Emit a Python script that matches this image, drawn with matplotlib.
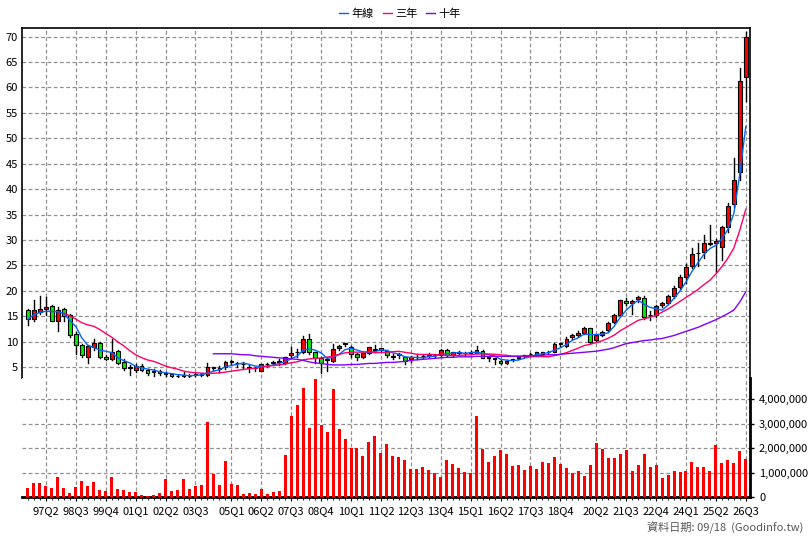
import matplotlib
matplotlib.use("Agg")
import matplotlib.pyplot as plt
import numpy as np
import pandas as pd
from matplotlib.patches import Rectangle

plt.rcParams['font.family'] = ['Noto Sans CJK TC', 'DejaVu Sans']

# Quarterly OHLC, first candle = 96Q3, last = 26Q3
opens = [16.2,14.4,15.9,16.4,17.0,14.0,16.5,15.3,11.5,9.3,7.0,9.0,9.7,7.0,6.6,8.2,5.9,4.8,4.4,5.2,
         4.4,4.0,4.2,3.8,3.6,3.2,3.3,3.3,3.4,3.5,3.5,4.9,4.7,5.0,6.0,5.8,5.6,4.9,4.7,4.3,
         5.5,5.8,6.0,5.7,7.3,7.9,8.0,10.6,7.9,6.7,6.4,6.2,8.7,9.5,9.0,7.6,7.0,7.8,8.4,8.7,
         8.2,7.0,7.4,6.9,6.5,6.9,7.1,7.2,7.3,7.3,8.4,7.3,7.8,7.7,7.8,7.8,8.2,6.8,6.6,6.2,
         5.7,6.4,6.7,7.2,7.5,7.5,7.5,7.9,8.0,9.6,9.2,10.8,11.2,11.6,12.6,10.3,11.3,12.3,13.9,15.2,
         18.0,17.6,18.3,18.5,15.2,15.2,17.1,17.6,18.9,20.7,22.7,24.9,27.4,27.6,29.2,29.3,28.7,32.5,37.1,43.4,
         62.0]
highs = [16.5,18.2,19.0,18.8,17.2,16.8,16.6,15.5,11.8,9.6,9.4,10.5,9.9,7.3,10.5,8.4,6.6,5.4,5.6,5.5,
         4.6,4.6,4.4,4.1,3.7,3.5,4.1,3.6,3.8,3.9,5.8,5.0,5.1,6.2,6.4,6.0,5.9,5.3,5.0,5.6,
         5.8,6.1,6.5,7.0,9.0,8.5,11.0,11.5,8.0,6.9,7.0,9.5,9.4,9.8,9.1,7.8,8.0,9.0,9.3,8.8,
         8.3,7.5,7.8,7.0,7.2,7.5,7.3,7.7,7.6,8.5,8.5,8.0,8.1,8.0,8.1,9.2,8.3,7.1,6.8,6.3,
         6.3,6.6,7.2,7.4,7.7,8.0,8.0,8.1,9.7,9.8,10.8,11.4,12.0,12.8,12.7,11.5,12.0,13.9,15.4,18.2,
         18.5,18.1,19.0,19.0,16.0,17.2,17.8,19.2,21.0,23.0,25.2,28.5,29.3,31.0,33.0,30.2,32.8,37.2,46.2,63.8,
         70.9]
lows = [13.3,14.0,15.5,15.2,14.0,12.0,14.0,10.8,7.5,7.0,5.8,8.4,6.8,6.4,6.4,5.6,4.4,3.4,4.1,4.3,
        3.4,3.3,3.5,3.2,2.8,3.0,3.0,3.0,3.2,3.3,3.3,4.4,4.0,4.6,5.3,5.0,4.6,4.0,4.2,4.2,
        5.0,5.3,5.4,5.5,7.0,6.9,7.8,7.5,5.8,3.9,4.3,6.0,8.4,9.2,7.0,6.4,6.8,7.6,7.9,7.9,
        7.0,6.5,6.8,5.5,6.0,6.5,6.7,6.9,7.0,7.2,7.2,7.1,7.5,7.4,7.5,7.7,6.7,6.2,5.5,5.6,
        5.5,6.1,6.5,7.0,7.3,7.3,7.3,7.6,7.9,9.2,9.0,10.5,11.0,11.4,9.8,10.0,11.1,11.8,13.7,15.0,
        17.2,15.5,17.8,14.4,14.3,14.9,16.8,17.4,18.6,20.4,21.5,24.5,24.8,26.5,29.0,23.7,26.0,31.5,36.5,41.7,
        57.4]
closes = [14.4,16.2,16.5,16.8,14.1,16.2,15.0,11.3,9.3,7.3,9.1,9.8,7.0,6.5,8.0,5.8,4.7,4.8,5.2,4.5,
          3.8,4.1,3.8,3.7,3.2,3.3,3.4,3.2,3.5,3.6,4.9,4.7,4.6,5.9,6.0,5.7,5.5,4.8,4.7,5.5,
          5.5,5.8,6.0,6.9,7.8,7.9,10.6,8.0,6.7,5.8,6.4,8.5,9.2,9.5,7.6,7.0,7.8,8.9,8.4,8.3,
          7.4,7.0,7.4,6.2,7.0,6.9,7.1,7.2,7.3,8.4,7.3,7.9,7.8,7.7,7.8,8.4,6.8,6.8,6.6,5.8,
          6.2,6.4,7.1,7.2,7.5,7.9,7.9,7.9,9.6,9.6,10.6,11.2,11.6,12.6,10.0,11.3,11.9,13.7,15.2,18.2,
          17.6,18.0,18.8,14.9,15.2,17.0,17.6,18.9,20.6,22.7,24.7,27.2,27.4,29.4,29.2,29.8,32.6,36.6,41.7,61.2,
          69.9]
volumes_m = [0.35,0.58,0.58,0.45,0.37,0.82,0.37,0.16,0.41,0.67,0.45,0.62,0.29,0.24,0.82,0.33,0.29,0.20,0.20,0.10,
             0.06,0.10,0.16,0.73,0.24,0.29,0.73,0.33,0.45,0.49,3.06,0.94,0.49,1.47,0.53,0.49,0.12,0.16,0.12,0.33,
             0.12,0.20,0.24,1.71,3.30,3.76,4.45,2.82,4.82,2.94,2.65,4.41,2.78,2.37,2.00,2.00,1.67,2.24,2.49,1.80,
             2.16,1.67,1.63,1.51,1.14,1.14,1.22,1.10,0.98,0.82,1.51,1.35,1.18,1.02,0.98,3.31,1.96,1.43,1.67,1.92,
             1.76,1.27,1.31,1.10,1.27,1.14,1.43,1.39,1.63,1.35,1.18,0.98,1.06,0.86,1.31,2.22,1.96,1.59,1.59,1.76,
             1.92,1.06,1.31,1.76,1.22,1.31,0.78,0.90,1.06,1.02,1.06,1.43,1.22,1.22,1.06,2.12,1.39,1.51,1.39,1.88,
             1.55]
# 10-year line (starts at index 31)
ten_year = [7.6,7.6,7.6,7.6,7.5, 7.4,7.4,7.2,7.1,7.0,6.9, 6.8,6.7,6.6,6.5,6.3,6.0,
            5.8,5.7,5.5,5.4,5.4,5.4,5.5,5.5, 5.6,5.7,5.7,5.8,5.9,5.9,6.0,
            6.1,6.3,6.4,6.5,6.6,6.7,6.8,6.9, 6.9,7.0,7.0,7.0,7.1,7.1,7.1,7.1,7.1,7.1,
            7.1,7.1,7.2,7.2,7.2,7.3,7.4,7.4, 7.5,7.6,7.7,7.8,7.9,8.0,8.1,
            8.3,8.5,8.8,9.2,9.6,9.8,10.0,10.2,10.3,10.5,
            10.6,10.9,11.2,11.6,12.0,12.4,12.8,13.3, 13.8,14.3,14.9,15.5,16.2,17.8,19.8]
tick_idx = [3,8,13,18,23,28,34,39,44,49,54,59,64,69,74,79,84,89,95,100,105,110,115,120]
tick_labels = ['97Q2','98Q3','99Q4','01Q1','02Q2','03Q3','05Q1','06Q2','07Q3','08Q4','10Q1','11Q2',
               '12Q3','13Q4','15Q1','16Q2','17Q3','18Q4','20Q2','21Q3','22Q4','24Q1','25Q2','26Q3']

n = len(closes)
x = np.arange(n)
cs = pd.Series(closes)
ma1 = cs.rolling(4, min_periods=1).mean()
ma3 = cs.rolling(12, min_periods=7).mean()
x10 = np.arange(n - len(ten_year), n)

W, H = 808, 540
fig = plt.figure(figsize=(W/100, H/100), dpi=100)
L, R = 22, 750
ax = fig.add_axes([L/W, 1-378/H, (R-L)/W, (378-28)/H])
axv = fig.add_axes([L/W, 1-497/H, (R-L)/W, (497-378)/H], sharex=ax)

grid_kw = dict(color='#909090', ls=(0, (3, 2)), lw=0.9)
for a in (ax, axv):
    for t in tick_idx:
        a.axvline(t, zorder=0, **grid_kw)
for v in range(5, 71, 5):
    ax.axhline(v, zorder=0, **grid_kw)
for v in range(1, 5):
    axv.axhline(v, zorder=0, **grid_kw)

bw = 0.62
for i in range(n):
    o, h, l, c = opens[i], highs[i], lows[i], closes[i]
    ax.plot([i, i], [l, h], color='black', lw=1, zorder=2)
    col = '#ff0000' if c >= o else '#00ee00'
    lo = min(o, c)
    hgt = max(abs(c - o), 0.12)
    ax.add_patch(Rectangle((i - bw/2, lo), bw, hgt, facecolor=col, edgecolor='black', lw=0.8, zorder=3))

l1, = ax.plot(x, ma1, color='#0066ff', lw=1, zorder=4, label='年線')
l2, = ax.plot(x, ma3, color='#ff0066', lw=1, zorder=4, label='三年')
l3, = ax.plot(x10, ten_year, color='#7f00ff', lw=1, zorder=4, label='十年')

ax.set_xlim(-1, n - 0.3)
ax.set_ylim(2.83, 71.7)
ax.set_yticks(range(5, 71, 5))
ax.tick_params(axis='y', labelsize=8, length=0, pad=3)
ax.tick_params(axis='x', bottom=False, labelbottom=False)
for s in ax.spines.values():
    s.set_linewidth(1.2)
ax.spines['bottom'].set_visible(False)

axv.bar(x, volumes_m, width=0.5, color='#ff0000', zorder=3)
axv.set_ylim(0, 4.86)
axv.yaxis.tick_right()
axv.set_yticks([0, 1, 2, 3, 4])
axv.set_yticklabels(['0', '1,000,000', '2,000,000', '3,000,000', '4,000,000'])
axv.tick_params(axis='y', labelsize=8, length=3, width=1)
axv.set_xticks(tick_idx)
axv.set_xticklabels(tick_labels)
axv.set_xticks(x, minor=True)
axv.tick_params(axis='x', which='major', labelsize=8, length=3)
axv.tick_params(axis='x', which='minor', length=2)
axv.spines['top'].set_visible(False)
axv.spines['left'].set_visible(False)
axv.spines['bottom'].set_linewidth(2)
axv.spines['right'].set_linewidth(2)

fig.legend(handles=[l1, l2, l3], loc='center', bbox_to_anchor=(400/W, 1-14/H), ncol=3,
           frameon=False, fontsize=8, handlelength=0.8, handletextpad=0.3, columnspacing=0.8)
fig.text(803/W, 1-528/H, '資料日期: 09/18  (Goodinfo.tw)', ha='right', va='center', fontsize=8, color='#555555')

fig.savefig('out.png', dpi=100)
